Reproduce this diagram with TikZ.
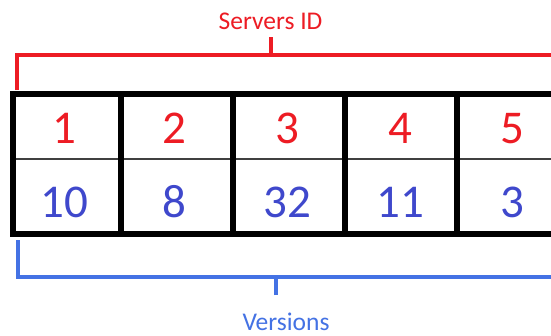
\documentclass[tikz,border=0pt]{standalone}
\usepackage{fontspec}
\setmainfont{Carlito}
\definecolor{idred}{HTML}{ED1C24}
\definecolor{verblue}{HTML}{3F48CC}
\definecolor{brblue}{HTML}{4472E4}
\tikzset{
  grid/.style={line width=6pt, black},
  midline/.style={line width=1.2pt, black!75},
  idnum/.style={anchor=base, text=idred, inner sep=0pt, font=\fontsize{47}{47}\selectfont},
  vernum/.style={anchor=base, text=verblue, inner sep=0pt, font=\fontsize{47}{47}\selectfont},
  bracketred/.style={line width=4pt, idred},
  bracketblue/.style={line width=4pt, brblue},
  caption/.style={anchor=base, inner sep=0pt, font=\fontsize{25.5}{25.5}\selectfont},
}
\begin{document}
\begin{tikzpicture}[x=1pt, y=-1pt]
  \useasboundingbox (0,0) rectangle (551,335);
  \clip (0,0) rectangle (551,335);
  \fill[white] (0,0) rectangle (551,335);

  % table grid: outer frame, column dividers and the thin row divider
  \draw[midline] (13,159) -- (600,159);
  \draw[grid] (600,94) -- (13,94) -- (13,234) -- (600,234);
  \foreach \cx in {121,233,345,457,569}
    \draw[grid] (\cx,94) -- (\cx,234);

  % server ids and versions
  \foreach \i/\cx/\id/\ver in {1/64/1/10, 2/174/2/8, 3/287/3/32, 4/400/4/11, 5/512/5/3} {
    \node[idnum]  (id\i)  at (\cx,143) {\id};
    \node[vernum] (ver\i) at (\cx,217) {\ver};
  }

  % top bracket
  \coordinate (rl) at (16.5,90);
  \coordinate (rt) at (270.5,37);
  \draw[bracketred] (rl) -- (16.5,55) -- (600,55);
  \draw[bracketred] (rt) -- (270.5,55);
  \node[caption, text=idred] (sid) at (270.5,29.5) {Servers ID};

  % bottom bracket
  \coordinate (bl) at (18,240);
  \coordinate (bt) at (276,295);
  \draw[bracketblue] (bl) -- (18,277) -- (600,277);
  \draw[bracketblue] (bt) -- (276,277);
  \node[caption, text=brblue] (vers) at (286,330) {Versions};
\end{tikzpicture}
\end{document}
